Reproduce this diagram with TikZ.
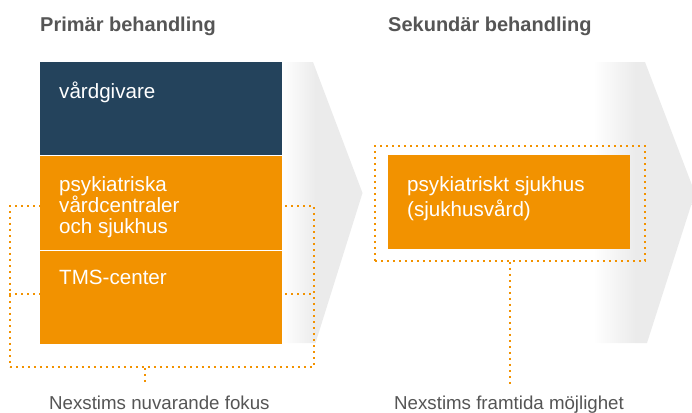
\documentclass[tikz,border=0pt]{standalone}
\usepackage{fontspec}
\setmainfont{Liberation Sans}
\definecolor{navy}{HTML}{24435C}
\definecolor{nexorange}{HTML}{F29200}
\definecolor{textgrey}{HTML}{555555}
\definecolor{chevgray}{HTML}{EBEBEB}
\usetikzlibrary{positioning,calc}
\pgfdeclarehorizontalshading{chevfade}{100bp}{color(0bp)=(white); color(25bp)=(white); color(46bp)=(chevgray); color(100bp)=(chevgray)}

\begin{document}
\begin{tikzpicture}[
    x=1pt, y=-1pt,
    box/.style={rectangle, inner sep=0pt, anchor=north west, minimum width=242},
    boxtext/.style={anchor=base west, inner sep=0pt, text=white, align=left,
                    font=\fontsize{20.6}{21}\selectfont},
    heading/.style={anchor=base west, inner sep=0pt, text=textgrey,
                    font=\fontsize{20}{24}\selectfont\bfseries},
    caption/.style={anchor=base west, inner sep=0pt, text=textgrey,
                    font=\fontsize{18.7}{22}\selectfont},
    dotline/.style={draw=nexorange, line width=1.8pt, dash pattern=on 1.8pt off 4.2pt},
    focus/.style={dotline, rectangle, inner sep=0pt, anchor=north west}
]
    \useasboundingbox (0,0) rectangle (692,412);

    % grey chevrons behind the two stages
    \shade[shading=chevfade] (282,62) -- (313,62) -- (362.5,193) -- (315.5,343) -- (282,343) -- cycle;
    \shade[shading=chevfade] (593,62) -- (645,62) -- (695,193) -- (647,343) -- (593,343) -- cycle;

    \node[heading] (primary) at (40,31) {Primär behandling};
    \node[heading] (secondary) at (388,31) {Sekundär behandling};

    % focus frames
    \node[focus, minimum width=304, minimum height=161] (curfocus) at (9,205) {};
    \node[focus, minimum width=270, minimum height=115] (futfocus) at (374,145) {};
    \coordinate (split) at (0,294);
    \draw[dotline] (curfocus.west |- split) -- (curfocus.east |- split);

    \coordinate (curtip) at (145,384);
    \coordinate (futtip) at (futfocus.south |- curtip);
    \draw[dotline] (curtip |- curfocus.south) -- (curtip);
    \draw[dotline] (futfocus.south) -- (futtip);

    % primary care column
    \node[box, fill=navy, minimum height=93] (provider) at (40,62) {};
    \node[box, fill=nexorange, minimum height=95] (clinics) at (provider.south west) {};
    \node[box, fill=nexorange, minimum height=93] (tms) at (clinics.south west) {};
    \draw[white, line width=1pt] (clinics.south west) -- (clinics.south east);

    \node[boxtext] (providertext) at ($(provider.north west)+(19,36)$) {vårdgivare};
    \node[boxtext] (clinicstext) at ($(clinics.north west)+(19,77.7)$) {psykiatriska\\vårdcentraler\\och sjukhus};
    \node[boxtext] (tmstext) at ($(tms.north west)+(19,34)$) {TMS-center};

    % secondary care
    \node[box, fill=nexorange, minimum height=94] (hospital) at (388,155) {};
    \node[boxtext, font=\fontsize{20.6}{25}\selectfont] (hospitaltext)
        at ($(hospital.north west)+(19,61.7)$) {psykiatriskt sjukhus\\(sjukhusvård)};

    \node[caption] (curlabel) at (49,409.5) {Nexstims nuvarande fokus};
    \node[caption] (futlabel) at (394,409.5) {Nexstims framtida möjlighet};
\end{tikzpicture}
\end{document}
